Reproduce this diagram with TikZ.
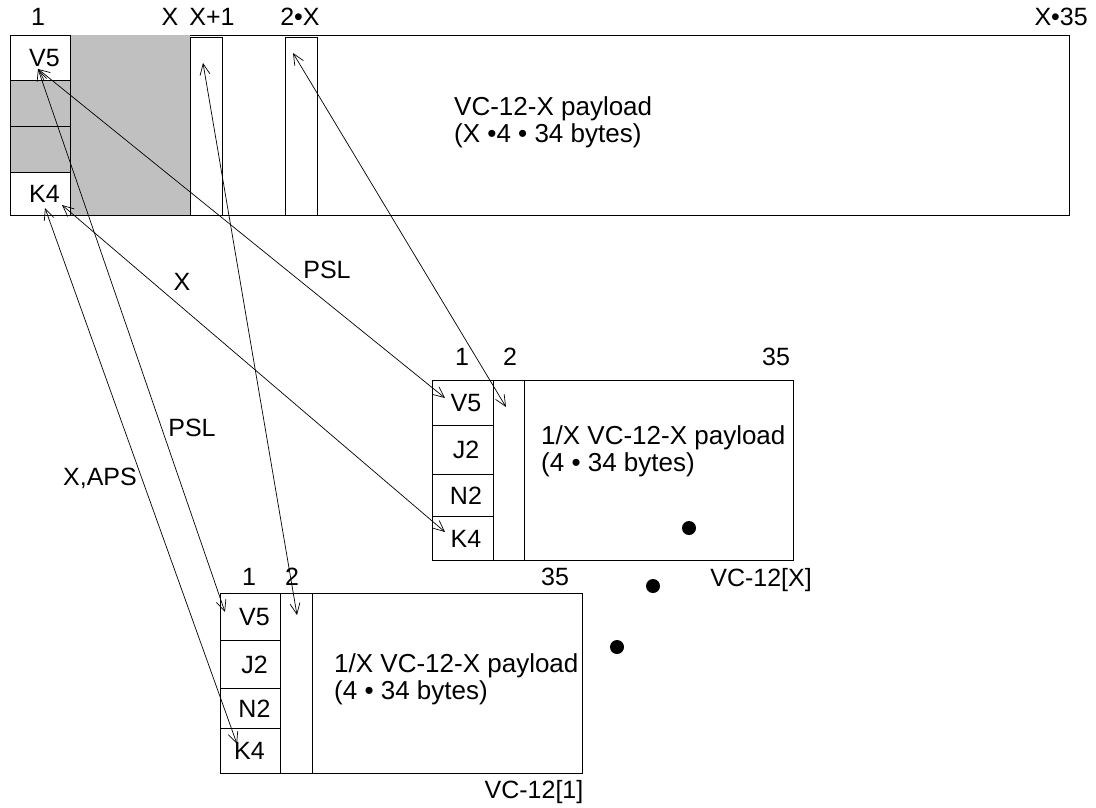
\documentclass[tikz,border=0pt]{standalone}
\usepackage{fontspec}
\setmainfont{Liberation Sans}
\usetikzlibrary{arrows.meta}
\definecolor{fillgray}{RGB}{192,192,192}
\begin{document}
\begin{tikzpicture}[x=1pt,y=-1pt,
  txt/.style={inner sep=0pt, font=\fontsize{25}{27}\selectfont},
  ptxt/.style={inner sep=0pt, font=\fontsize{26}{27}\selectfont, anchor=west, align=left},
  cell/.style={draw, line width=0.9pt, fill=white, inner sep=0pt, font=\fontsize{25}{27}\selectfont},
  box/.style={draw, line width=0.9pt},
  conn/.style={line width=0.7pt, {Straight Barb[length=11pt,width=10pt]}-{Straight Barb[length=11pt,width=10pt]}},
  dot/.style={fill=black, circle, inner sep=0pt, minimum size=14pt}]
\useasboundingbox (0,0) rectangle (1096,807);
% ---------- top VC-12-X ----------
\node[box, minimum width=1059pt, minimum height=180pt, anchor=north west, inner sep=0pt] (top) at (10,35) {};
\fill[fillgray] (70,35) rectangle (190,215);
\node[cell, minimum width=60pt, minimum height=45pt, anchor=north west] (tV5) at (10,35) {\hspace{8pt}V5};
\node[cell, fill=fillgray, minimum width=60pt, minimum height=46pt, anchor=north west] (tG1) at (10,80) {};
\node[cell, fill=fillgray, minimum width=60pt, minimum height=46pt, anchor=north west] (tG2) at (10,126) {};
\node[cell, minimum width=60pt, minimum height=43pt, anchor=north west] (tK4) at (10,172) {\hspace{8pt}K4};
\node[cell, minimum width=32pt, minimum height=178pt, anchor=north west] (tcol1) at (190,37) {};
\node[cell, minimum width=32pt, minimum height=178pt, anchor=north west] (tcol2) at (285,37) {};
\node[txt] (l1) at (38,17) {1};
\node[txt] (lX) at (170,17) {X};
\node[txt] (lX1) at (212,17) {X+1};
\node[txt] (l2X) at (300,17) {2•X};
\node[txt, anchor=east] (lX35) at (1088,17) {X•35};
\node[ptxt] (tpay) at (454,122) {VC-12-X payload\\(X •4 • 34 bytes)};
% ---------- middle VC-12[X] ----------
\node[box, minimum width=361pt, minimum height=180pt, anchor=north west, inner sep=0pt] (mid) at (432,380) {};
\node[cell, minimum width=61pt, minimum height=45pt, anchor=north west] (mV5) at (432,380) {\hspace{6pt}V5};
\node[cell, minimum width=61pt, minimum height=49pt, anchor=north west] (mJ2) at (432,425) {\hspace{6pt}J2};
\node[cell, minimum width=61pt, minimum height=42pt, anchor=north west] (mN2) at (432,474) {\hspace{6pt}N2};
\node[cell, minimum width=61pt, minimum height=44pt, anchor=north west] (mK4) at (432,516) {\hspace{6pt}K4};
\node[cell, minimum width=31pt, minimum height=180pt, anchor=north west] (mcol) at (493,380) {};
\node[txt] (m1) at (462,357) {1};
\node[txt] (m2) at (510,357) {2};
\node[txt] (m35) at (776,357) {35};
\node[ptxt] (mpay) at (541,451) {1/X VC-12-X payload\\(4 • 34 bytes)};
\node[txt, anchor=east] (mname) at (812,580) {VC-12[X]};
% ---------- bottom VC-12[1] ----------
\node[box, minimum width=362pt, minimum height=180pt, anchor=north west, inner sep=0pt] (bot) at (220,593) {};
\node[cell, minimum width=60pt, minimum height=47pt, anchor=north west] (bV5) at (220,593) {\hspace{8pt}V5};
\node[cell, minimum width=60pt, minimum height=48pt, anchor=north west] (bJ2) at (220,640) {\hspace{8pt}J2};
\node[cell, minimum width=60pt, minimum height=40pt, anchor=north west] (bN2) at (220,688) {\hspace{8pt}N2};
\node[cell, minimum width=60pt, minimum height=45pt, anchor=north west] (bK4) at (220,728) {\hspace{-2pt}K4};
\node[cell, minimum width=32pt, minimum height=180pt, anchor=north west] (bcol) at (280,593) {};
\node[txt] (b1) at (249,577) {1};
\node[txt] (b2) at (292,577) {2};
\node[txt] (b35) at (555,577) {35};
\node[ptxt] (bpay) at (334,679) {1/X VC-12-X payload\\(4 • 34 bytes)};
\node[txt] (bname) at (534,792) {VC-12[1]};
% ---------- dots ----------
\node[dot] (d1) at (689,528) {};
\node[dot] (d2) at (653,586) {};
\node[dot] (d3) at (617,647) {};
% ---------- connector end points ----------
\coordinate (pTV5) at (38,69);
\coordinate (pTK4a) at (45,208);
\coordinate (pTK4b) at (62,205);
\coordinate (pTc1) at (203,63);
\coordinate (pTc2) at (293,53);
\coordinate (pMV5) at (445,398);
\coordinate (pMc) at (506,407);
\coordinate (pMK4) at (445,532);
\coordinate (pBV5) at (225,612);
\coordinate (pBc) at (297,615);
\coordinate (pBK4) at (237,744);
% ---------- connectors ----------
\draw[conn] (pTV5) -- (pMV5);
\draw[conn] (pTV5) -- (pBV5);
\draw[conn] (pTK4b) -- (pMK4);
\draw[conn] (pTK4a) -- (pBK4);
\draw[conn] (pTc1) -- (pBc);
\draw[conn] (pTc2) -- (pMc);
% ---------- connector labels ----------
\node[txt] (aPSL1) at (327,270) {PSL};
\node[txt] (aX) at (182,282) {X};
\node[txt] (aPSL2) at (192,428) {PSL};
\node[txt] (aXAPS) at (100,478) {X,APS};
\end{tikzpicture}
\end{document}
